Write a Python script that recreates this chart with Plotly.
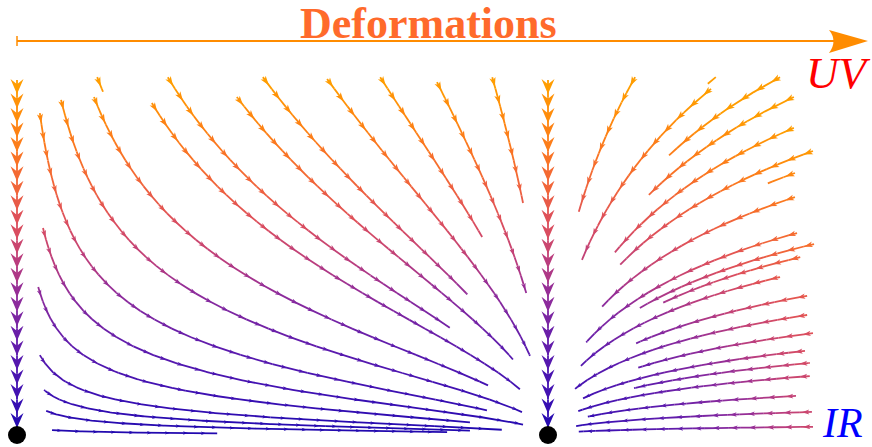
import numpy as np
import plotly.graph_objects as go
from plotly.colors import sample_colorscale

# ---------------- data ----------------
# fixed points (UV-unstable point on the left, IR point at x = 1)
fixed_x = [0.0, 1.0]
fixed_y = [0.0, 0.0]
# invariant vertical flow lines through the fixed points
axis_lines_x = [0.0, 1.0]
axis_top_y = 1.0
flow_exponent = 0.5

# streamlines between the two fixed points: start (x, y) and end x
left_x0 = [0.066, 0.055, 0.051, 0.043, 0.040, 0.049, 0.043, 0.083, 0.145, 0.151,
           0.254, 0.284, 0.414, 0.463, 0.584, 0.684, 0.791, 0.895]
left_y0 = [0.014, 0.068, 0.127, 0.225, 0.417, 0.583, 0.907, 0.944, 0.952, 1.008,
           0.935, 1.008, 0.952, 1.008, 1.003, 1.008, 0.994, 1.008]
left_x1 = [0.377, 0.810, 0.853, 0.913, 0.853, 0.953, 0.885, 0.951, 0.887, 0.162,
           0.947, 0.815, 0.934, 0.848, 0.966, 0.876, 0.959, 0.953]

# streamlines right of the IR point: start (x, y) and end x
right_x0 = [1.164, 1.316, 1.307, 1.437, 1.463, 1.463, 1.499, 1.465, 1.465, 1.469, 1.501,
            1.475, 1.437, 1.488, 1.488, 1.499, 1.484, 1.493, 1.493, 1.467, 1.497, 1.499]
right_y0 = [1.008, 1.008, 0.975, 1.008, 0.952, 0.865, 0.800, 0.738, 0.670, 0.569, 0.538,
            0.501, 0.445, 0.392, 0.338, 0.287, 0.237, 0.203, 0.166, 0.110, 0.065, 0.023]
right_x1 = [1.058, 1.301, 1.064, 1.228, 1.190, 1.126, 1.136, 1.414, 1.102, 1.072, 1.173,
            1.217, 1.062, 1.166, 1.051, 1.170, 1.066, 1.162, 1.057, 1.075, 1.053, 1.058]

title_text = "Deformations"
uv_text = "UV"
ir_text = "IR"

# ---------------- geometry / style ----------------
W, H = 872, 447
KX, KY = 531.0, 355.0          # pixels per data unit
OX, OY = 17.0, 435.0           # pixel position of (0, 0)
x_range = [-OX / KX, (W - OX) / KX]
y_range = [(OY - H) / KY, OY / KY]

scale = [[0.0, '#1e08ae'], [0.1, '#3a0fb3'], [0.25, '#5e1bad'], [0.4, '#902c9a'],
         [0.5, '#c0407a'], [0.6, '#dc4f5c'], [0.7, '#f0623c'], [0.8, '#fa7622'],
         [0.9, '#ff8a0c'], [1.0, '#ffa000']]
NB = 40
bin_cols = sample_colorscale(scale, [(i + 0.5) / NB for i in range(NB)])


def cval(x, y):
    return np.minimum(1.0, np.hypot(y, 1.1 * np.maximum(np.asarray(x) - 1.0, 0.0)))


def resample(xs, ys, step=1.5):
    sx, sy = xs * KX, ys * KY
    s = np.concatenate([[0.0], np.cumsum(np.hypot(np.diff(sx), np.diff(sy)))])
    n = max(2, int(s[-1] / step) + 1)
    t = np.linspace(0, s[-1], n)
    return np.interp(t, s, xs), np.interp(t, s, ys), t


def flow_line(x0, y0, x1):
    p = flow_exponent
    C = y0 / abs((1 - x0) / x0) ** p
    xs = np.linspace(x0, x1, 6000)
    ys = C * np.abs((1 - xs) / xs) ** p
    return resample(xs, ys)


line_bins = [[[], []] for _ in range(NB)]
head_bins = [[[], []] for _ in range(NB)]


def add_line(xs, ys):
    c = cval((xs[:-1] + xs[1:]) / 2, (ys[:-1] + ys[1:]) / 2)
    b = np.minimum(NB - 1, (c * NB).astype(int))
    i = 0
    while i < len(b):
        j = i
        while j + 1 < len(b) and b[j + 1] == b[i]:
            j += 1
        bx, by = line_bins[b[i]]
        bx.extend(xs[i:j + 2].tolist() + [None])
        by.extend(ys[i:j + 2].tolist() + [None])
        i = j + 1


def add_head(x, y, dx, dy, L, Wd, notch, cv):
    nrm = np.hypot(dx, dy)
    dx, dy = dx / nrm, dy / nrm
    nx, ny = -dy, dx
    sx, sy = x * KX, y * KY
    pts = [(sx, sy),
           (sx - L * dx + Wd / 2 * nx, sy - L * dy + Wd / 2 * ny),
           (sx - notch * L * dx, sy - notch * L * dy),
           (sx - L * dx - Wd / 2 * nx, sy - L * dy - Wd / 2 * ny),
           (sx, sy)]
    b = min(NB - 1, int(cv * NB))
    hx, hy = head_bins[b]
    hx.extend([p[0] / KX for p in pts] + [None])
    hy.extend([p[1] / KY for p in pts] + [None])


def add_heads(xs, ys, t, spacing=18.0, offset=10.0):
    for tk in np.arange(offset, t[-1] - 1.0, spacing):
        x = np.interp(tk, t, xs)
        y = np.interp(tk, t, ys)
        xa, ya = np.interp(tk - 1.5, t, xs), np.interp(tk - 1.5, t, ys)
        xb, yb = np.interp(tk + 1.5, t, xs), np.interp(tk + 1.5, t, ys)
        cv = float(cval(x, y))
        add_head(x, y, (xb - xa) * KX, (yb - ya) * KY, 5.0 + 4.5 * cv, 3.4 + 3.0 * cv, 0.75, cv)


for x0, y0, x1 in list(zip(left_x0, left_y0, left_x1)) + list(zip(right_x0, right_y0, right_x1)):
    xs, ys, t = flow_line(x0, y0, x1)
    add_line(xs, ys)
    add_heads(xs, ys, t)

# vertical invariant lines with big arrowheads
n_axis_heads = 24
tip_lo, tip_hi = (OY - 428) / KY, (OY - 94) / KY
for ax in axis_lines_x:
    ys = np.linspace(axis_top_y, 0.0, 300)
    add_line(np.full_like(ys, ax), ys)
    for ty in np.linspace(tip_hi, tip_lo, n_axis_heads):
        add_head(ax, ty, 0.0, -1.0, 15.0, 13.0, 0.65, float(min(1.0, ty + 0.03)))

fig = go.Figure()
for k in range(NB):
    bx, by = line_bins[k]
    if bx:
        fig.add_trace(go.Scatter(x=bx, y=by, mode='lines', line=dict(color=bin_cols[k], width=1.8),
                                 hoverinfo='skip', showlegend=False))
for k in range(NB):
    hx, hy = head_bins[k]
    if hx:
        fig.add_trace(go.Scatter(x=hx, y=hy, mode='lines', fill='toself', fillcolor=bin_cols[k],
                                 line=dict(width=0, color=bin_cols[k]),
                                 hoverinfo='skip', showlegend=False))

fig.add_trace(go.Scatter(x=fixed_x, y=fixed_y, mode='markers',
                         marker=dict(size=18, color='black'), hoverinfo='skip', showlegend=False))


def px(xp):
    return xp / W


def py(yp):
    return 1 - yp / H


orange = '#ff8c00'
fig.update_layout(
    width=W, height=H, autosize=False,
    margin=dict(l=0, r=0, t=0, b=0, pad=0),
    paper_bgcolor='white', plot_bgcolor='white',
    xaxis=dict(range=x_range, visible=False, fixedrange=True),
    yaxis=dict(range=y_range, visible=False, fixedrange=True),
    shapes=[
        dict(type='line', xref='paper', yref='paper', x0=px(17), y0=py(41), x1=px(835), y1=py(41),
             line=dict(color=orange, width=2)),
        dict(type='line', xref='paper', yref='paper', x0=px(17), y0=py(36), x1=px(17), y1=py(46),
             line=dict(color=orange, width=1.5)),
        dict(type='path', xref='paper', yref='paper',
             path=f"M {px(868)},{py(41)} L {px(829)},{py(30)} Q {px(838)},{py(41)} {px(829)},{py(53)} Z",
             fillcolor=orange, line=dict(width=0)),
    ],
    annotations=[
        dict(text=f"<b>{title_text}</b>", xref='paper', yref='paper', x=px(428.5), y=py(23),
             xanchor='center', yanchor='middle', showarrow=False,
             font=dict(family='Liberation Serif', size=44, color='#ff6a2b')),
        dict(text=f"<i>{uv_text}</i>", xref='paper', yref='paper', x=px(838), y=py(72.5),
             xanchor='center', yanchor='middle', showarrow=False,
             font=dict(family='Liberation Serif', size=45, color='#ff0000')),
        dict(text=f"<i>{ir_text}</i>", xref='paper', yref='paper', x=px(842), y=py(423),
             xanchor='center', yanchor='middle', showarrow=False,
             font=dict(family='Liberation Serif', size=42, color='#0000ff')),
    ],
)

fig.write_html("out.html", config={'displayModeBar': False})
with open("out.html", "r", encoding="utf-8") as f:
    html = f.read()
html = html.replace("<head>", "<head><style>html,body{margin:0;padding:0;overflow:hidden}</style>", 1)
with open("out.html", "w", encoding="utf-8") as f:
    f.write(html)
